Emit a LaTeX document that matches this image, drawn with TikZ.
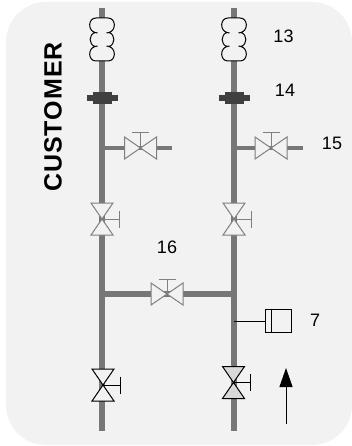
\documentclass[tikz,border=0pt]{standalone}
\usepackage{fontspec}
\setmainfont{Liberation Sans}
\newfontfamily\titlefont[LetterSpace=4]{Liberation Sans Bold}
\usetikzlibrary{arrows.meta}
\definecolor{panel}{HTML}{F2F2F2}
\definecolor{pipe}{HTML}{777777}
\definecolor{valveg}{HTML}{808080}
\definecolor{flangec}{HTML}{404040}
\definecolor{valvefill}{HTML}{D9D9D9}
\tikzset{
  x=1pt,y=-1pt,
  mainpipe/.style={draw=pipe,line width=6pt},
  branchpipe/.style={draw=pipe,line width=4.5pt},
  numlabel/.style={font=\fontsize{18}{20}\selectfont,inner sep=0pt},
  titlelabel/.style={font=\fontsize{25}{28}\titlefont,inner sep=0pt,rotate=90},
  hvalve/.pic={
    \draw[pic actions,fill=panel,line join=miter] (-16,-11) -- (16,11) -- (16,-11) -- (-16,11) -- cycle;
    \draw[pic actions] (0,0) -- (0,-15) (-8.5,-15) -- (8.5,-15);
  },
  vvalve/.pic={
    \draw[pic actions,fill=panel,line join=miter] (-11,-16) -- (11,-16) -- (-11,16) -- (11,16) -- cycle;
    \draw[pic actions] (0,0) -- (17,0) (17,-8.5) -- (17,8.5);
  },
  coil/.pic={
    \draw[black,line width=1pt,fill=panel]
      (-7,-7) .. controls (-14.5,-9) and (-14,-21.5) .. (-6,-21.5)
      -- (6,-21.5)
      .. controls (14,-21.5) and (14.5,-9) .. (7,-7)
      .. controls (13.5,-5) and (13.5,5) .. (7,7)
      .. controls (14.5,9) and (14,21.5) .. (6,21.5)
      -- (-6,21.5)
      .. controls (-14,21.5) and (-14.5,9) .. (-7,7)
      .. controls (-13.5,5) and (-13.5,-5) .. (-7,-7)
      -- cycle;
    \draw[black,line width=1pt] (-7,-7) -- (-4.5,-6.5) (7,-7) -- (4.5,-6.5) (-7,7) -- (-4.5,6.5) (7,7) -- (4.5,6.5);
  },
  flange/.pic={
    \fill[flangec] (-15.5,-3) rectangle (15.5,3);
    \fill[flangec] (-9.5,-6) rectangle (9.5,6);
  }
}
\begin{document}
\begin{tikzpicture}
\useasboundingbox (0,0) rectangle (352,446);
\fill[white] (0,0) rectangle (352,446);
\fill[panel,rounded corners=40pt] (6,2) rectangle (352,445);
% anchor points
\coordinate (ltop) at (102,8);
\coordinate (lbot) at (102,431);
\coordinate (rtop) at (234,8);
\coordinate (rbot) at (234,431);
\coordinate (lbr) at (102,148);
\coordinate (rbr) at (234,148);
\coordinate (lcross) at (102,294);
\coordinate (rcross) at (234,294);
\coordinate (lend) at (172,148);
\coordinate (rend) at (303,148);
\coordinate (rinst) at (234,321);
\coordinate (atail) at (286,424);
\coordinate (ahead) at (286,368);
% pipes
\draw[mainpipe] (ltop) -- (lbot);
\draw[mainpipe] (rtop) -- (rbot);
\draw[mainpipe] (lcross) -- (rcross);
\draw[branchpipe] (lbr) -- (lend);
\draw[branchpipe] (rbr) -- (rend);
% coils and flanges
\pic at (102,39.5) {coil};
\pic at (234,39.5) {coil};
\pic at (102,98.5) {flange};
\pic at (234,98) {flange};
% valves
\pic[draw=valveg,line width=1pt] at (140.5,148) {hvalve};
\pic[draw=valveg,line width=1pt] at (271,148) {hvalve};
\pic[draw=valveg,line width=1pt] at (167,294) {hvalve};
\pic[draw=valveg,line width=1pt] at (102,219) {vvalve};
\pic[draw=valveg,line width=1pt] at (234,219) {vvalve};
\pic[draw=black,line width=1pt] at (103,385) {vvalve};
\begin{scope}[shift={(233.5,382.5)}]
  \draw[black,line width=1pt,fill=valvefill] (-11,-16) -- (11,-16) -- (-11,16) -- (11,16) -- cycle;
  \draw[black,line width=1pt] (0,0) -- (17,0) (17,-8.5) -- (17,8.5);
\end{scope}
% instrument
\node[draw=black,line width=1pt,fill=panel,minimum width=26pt,minimum height=23pt,inner sep=0pt] (inst) at (278,320.5) {};
\draw[black,line width=1pt] (inst.north west) ++(7,0) -- ++(0,23);
\draw[black,line width=1pt] (rinst) -- (rinst -| inst.west);
% flow arrow
\draw[black,line width=1pt,-{Triangle[length=19pt,width=13pt]}] (atail) -- (ahead);
% labels
\node[numlabel] (n13) at (283.5,36.5) {13};
\node[numlabel] (n14) at (285,90) {14};
\node[numlabel] (n15) at (332,143) {15};
\node[numlabel] (n16) at (167,247) {16};
\node[numlabel] (n7) at (315,320) {7};
\node[titlelabel] (cust) at (53,117) {CUSTOMER};
\end{tikzpicture}
\end{document}
